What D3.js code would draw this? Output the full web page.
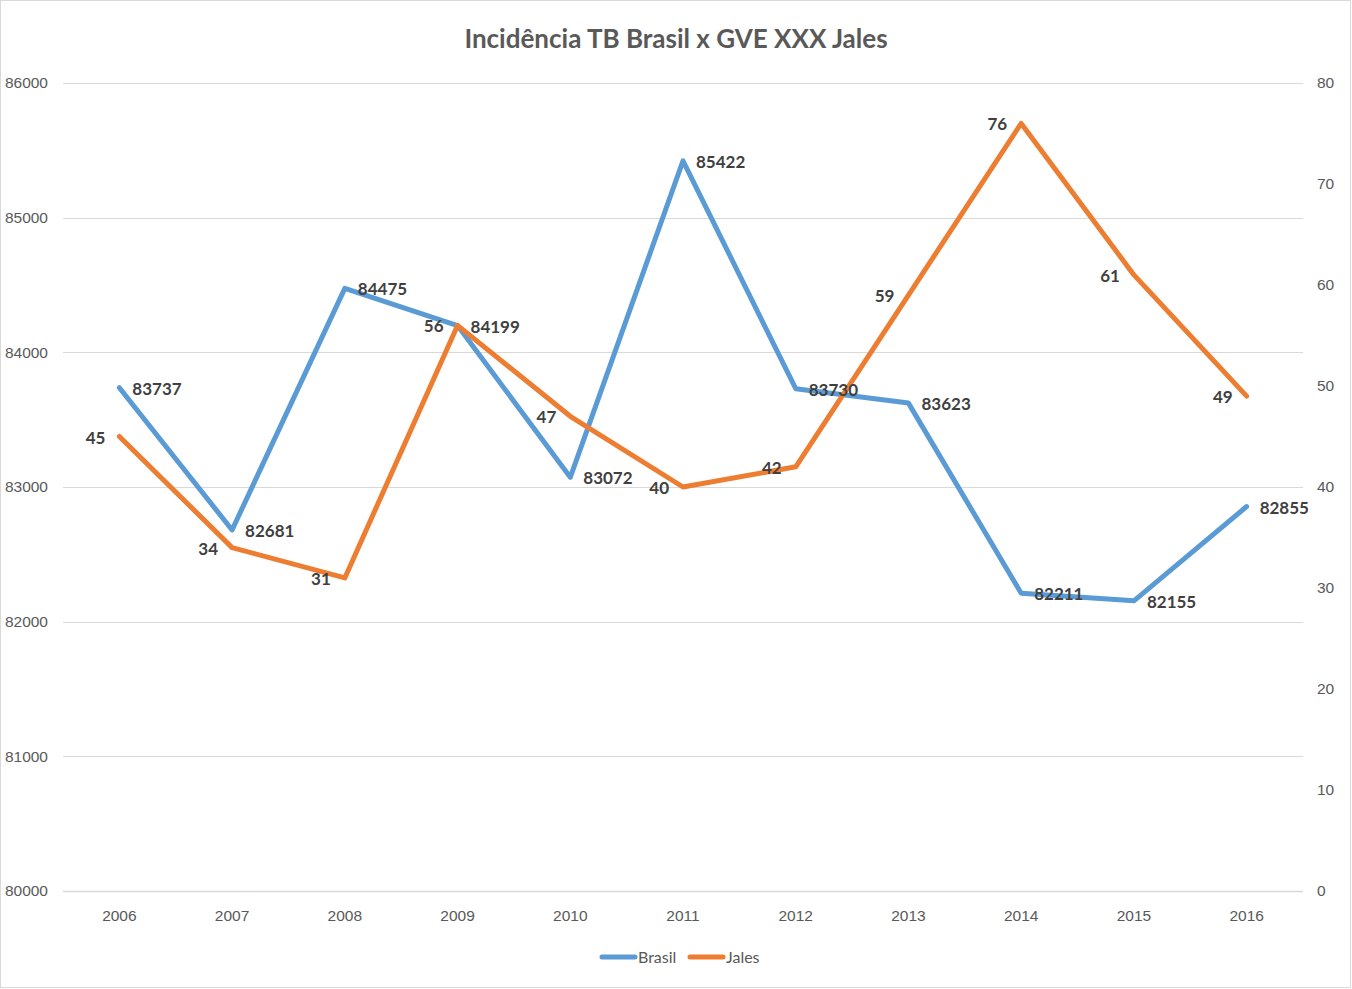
<!DOCTYPE html>
<html>
<head>
<meta charset="utf-8">
<script src="https://cdn.jsdelivr.net/npm/d3@7"></script>
<style>
body { margin: 0; background: #fff; }
svg { font-family: Lato, "Open Sans", sans-serif; }
.axis text { fill: #595959; font-size: 15.5px; }
.lbl { fill: #404040; font-size: 17px; font-weight: bold; }
</style>
</head>
<body>
<svg width="1352" height="989"></svg>
<script>
let years = ["2006", "2007", "2008", "2009", "2010", "2011", "2012", "2013", "2014", "2015", "2016"];
let brasil = [83737, 82681, 84475, 84199, 83072, 85422, 83730, 83623, 82211, 82155, 82855];
let jales = [45, 34, 31, 56, 47, 40, 42, 59, 76, 61, 49];
let leftTicks = [80000, 81000, 82000, 83000, 84000, 85000, 86000];
let rightTicks = [0, 10, 20, 30, 40, 50, 60, 70, 80];

let svg = d3.select("svg"),
    margin = {top: 83, right: 49, bottom: 98, left: 63},
    width = 1352 - margin.left - margin.right,
    height = 989 - margin.top - margin.bottom;

svg.append("rect")
    .attr("x", 0.5).attr("y", 0.5)
    .attr("width", 1350).attr("height", 987)
    .attr("fill", "#fff")
    .attr("stroke", "#d9d9d9");

svg.append("text")
    .attr("x", 676).attr("y", 48)
    .attr("text-anchor", "middle")
    .attr("fill", "#595959")
    .style("font-size", "26px")
    .style("font-weight", "bold")
    .text("Incidência TB Brasil x GVE XXX Jales");

let x = d3.scaleBand().domain(years).range([0, width]),
    yL = d3.scaleLinear().domain([80000, 86000]).range([height, 0]),
    yR = d3.scaleLinear().domain([0, 80]).range([height, 0]);

let g = svg.append("g")
    .attr("transform", "translate(" + margin.left + "," + margin.top + ")");

// gridlines
g.append("g")
    .selectAll("line")
    .data(leftTicks)
    .enter().append("line")
    .attr("x1", 0).attr("x2", width)
    .attr("y1", d => Math.round(yL(d)) + 0.5)
    .attr("y2", d => Math.round(yL(d)) + 0.5)
    .attr("stroke", "#d9d9d9")
    .attr("stroke-width", d => d === 80000 ? 1.5 : 1);

let leftAxis = g.append("g")
    .attr("class", "axis")
    .call(d3.axisLeft(yL).tickValues(leftTicks).tickSize(0).tickPadding(15).tickFormat(d3.format("d")));
leftAxis.select(".domain").remove();

let rightAxis = g.append("g")
    .attr("class", "axis")
    .attr("transform", "translate(" + width + ",0)")
    .call(d3.axisRight(yR).tickValues(rightTicks).tickSize(0).tickPadding(14));
rightAxis.select(".domain").remove();

let xAxis = g.append("g")
    .attr("class", "axis")
    .attr("transform", "translate(0," + height + ")")
    .call(d3.axisBottom(x).tickSize(0).tickPadding(19));
xAxis.select(".domain").remove();

let cx = d => x(d) + x.bandwidth() / 2;

let lineL = d3.line().x((d, i) => cx(years[i])).y(d => yL(d));
let lineR = d3.line().x((d, i) => cx(years[i])).y(d => yR(d));

g.append("path")
    .datum(brasil)
    .attr("d", lineL)
    .attr("fill", "none")
    .attr("stroke", "#5B9BD5")
    .attr("stroke-width", 5)
    .attr("stroke-linejoin", "round")
    .attr("stroke-linecap", "round");

g.append("path")
    .datum(jales)
    .attr("d", lineR)
    .attr("fill", "none")
    .attr("stroke", "#ED7D31")
    .attr("stroke-width", 5)
    .attr("stroke-linejoin", "round")
    .attr("stroke-linecap", "round");

g.append("g")
    .selectAll("text")
    .data(brasil)
    .enter().append("text")
    .attr("class", "lbl")
    .attr("x", (d, i) => cx(years[i]) + 13)
    .attr("y", d => yL(d) + 7)
    .text(d => d);

g.append("g")
    .selectAll("text")
    .data(jales)
    .enter().append("text")
    .attr("class", "lbl")
    .attr("text-anchor", "end")
    .attr("x", (d, i) => cx(years[i]) - 14)
    .attr("y", d => yR(d) + 7)
    .text(d => d);

// legend
let legend = svg.append("g").attr("transform", "translate(600,957)");
let items = [{name: "Brasil", color: "#5B9BD5", x: 0}, {name: "Jales", color: "#ED7D31", x: 88}];
items.forEach(function (it) {
    legend.append("line")
        .attr("x1", it.x + 2).attr("x2", it.x + 35)
        .attr("y1", 0).attr("y2", 0)
        .attr("stroke", it.color)
        .attr("stroke-width", 5)
        .attr("stroke-linecap", "round");
    legend.append("text")
        .attr("x", it.x + 38).attr("y", 6)
        .attr("fill", "#595959")
        .style("font-size", "16px")
        .text(it.name);
});
</script>
</body>
</html>
